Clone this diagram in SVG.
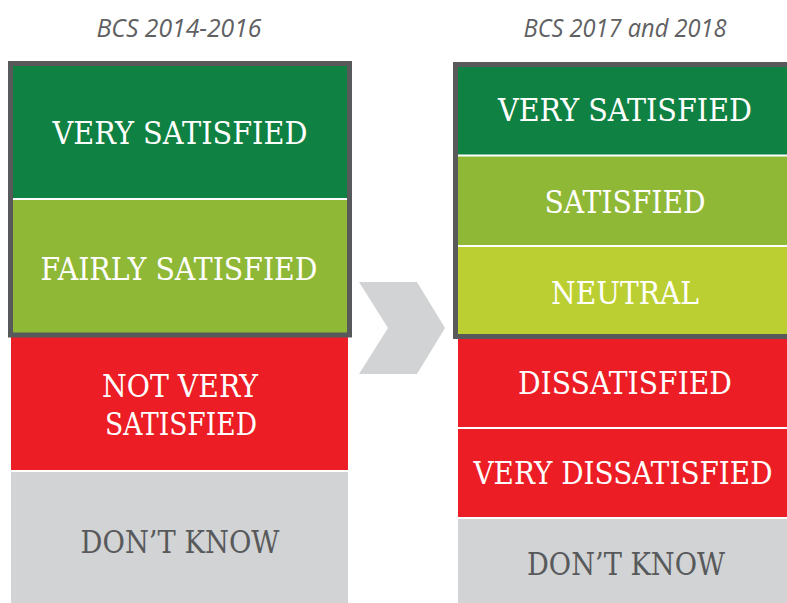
<svg xmlns="http://www.w3.org/2000/svg" width="787" height="603" viewBox="0 0 787 603">
<style>
.lbl{font-family:"DejaVu Serif","Liberation Serif",serif;font-size:31px;fill:#ffffff;text-anchor:middle}
.dk{fill:#58595b}
.hdr{font-family:"Open Sans","Liberation Sans",sans-serif;font-style:italic;font-size:26px;fill:#5f6062;text-anchor:middle}
.sep{stroke:#ffffff;stroke-width:2}
.frame{fill:none;stroke:#58595b;stroke-width:5}
</style>
<rect width="787" height="603" fill="#ffffff"/>
<text class="hdr" x="179" y="37" textLength="165" lengthAdjust="spacingAndGlyphs">BCS 2014-2016</text>
<text class="hdr" x="625" y="37" textLength="203" lengthAdjust="spacingAndGlyphs">BCS 2017 and 2018</text>

<g id="left-very-satisfied">
<rect x="11" y="64" width="338" height="135" fill="#0f8142"/>
<text class="lbl" x="180" y="144" textLength="255" lengthAdjust="spacingAndGlyphs">VERY SATISFIED</text>
</g>
<g id="left-fairly-satisfied">
<rect x="11" y="199" width="338" height="136" fill="#8fb836"/>
<text class="lbl" x="179" y="280" textLength="277" lengthAdjust="spacingAndGlyphs">FAIRLY SATISFIED</text>
</g>
<g id="left-not-very-satisfied">
<rect x="11" y="337" width="337" height="134" fill="#ec1d25"/>
<text class="lbl" x="180" y="397" textLength="156" lengthAdjust="spacingAndGlyphs">NOT VERY</text>
<text class="lbl" x="181" y="435" textLength="152" lengthAdjust="spacingAndGlyphs">SATISFIED</text>
</g>
<g id="left-dont-know">
<rect x="11" y="471" width="337" height="132" fill="#d1d3d4"/>
<text class="lbl dk" x="180" y="553" textLength="199" lengthAdjust="spacingAndGlyphs">DON’T KNOW</text>
</g>

<g id="right-very-satisfied">
<rect x="456" y="64" width="331" height="92" fill="#0f8142"/>
<text class="lbl" x="625" y="121" textLength="254" lengthAdjust="spacingAndGlyphs">VERY SATISFIED</text>
</g>
<g id="right-satisfied">
<rect x="456" y="156" width="331" height="91" fill="#8fb836"/>
<text class="lbl" x="625" y="213" textLength="161" lengthAdjust="spacingAndGlyphs">SATISFIED</text>
</g>
<g id="right-neutral">
<rect x="456" y="246" width="331" height="90" fill="#bccf32"/>
<text class="lbl" x="625" y="304" textLength="148" lengthAdjust="spacingAndGlyphs">NEUTRAL</text>
</g>
<g id="right-dissatisfied">
<rect x="458" y="339" width="329" height="89" fill="#ec1d25"/>
<text class="lbl" x="625" y="394" textLength="214" lengthAdjust="spacingAndGlyphs">DISSATISFIED</text>
</g>
<g id="right-very-dissatisfied">
<rect x="458" y="428" width="329" height="90" fill="#ec1d25"/>
<text class="lbl" x="623" y="484" textLength="299" lengthAdjust="spacingAndGlyphs">VERY DISSATISFIED</text>
</g>
<g id="right-dont-know">
<rect x="458" y="518" width="329" height="85" fill="#d1d3d4"/>
<text class="lbl dk" x="626" y="575" textLength="198" lengthAdjust="spacingAndGlyphs">DON’T KNOW</text>
</g>

<g id="connectors">
<line class="sep" x1="11" y1="199" x2="349" y2="199"/>
<line class="sep" x1="11" y1="471" x2="349" y2="471"/>
<line class="sep" x1="456" y1="155.5" x2="787" y2="155.5"/>
<line class="sep" x1="456" y1="246" x2="787" y2="246"/>
<line class="sep" x1="458" y1="428" x2="787" y2="428"/>
<line class="sep" x1="458" y1="518" x2="787" y2="518"/>
<rect class="frame" x="10.5" y="63.5" width="339" height="271.5"/>
<rect class="frame" x="455.5" y="64.5" width="340" height="272"/>
<polygon points="359,282 417,282 445,328 417,374 359,374 388,328" fill="#d1d3d4"/>
</g>
</svg>
